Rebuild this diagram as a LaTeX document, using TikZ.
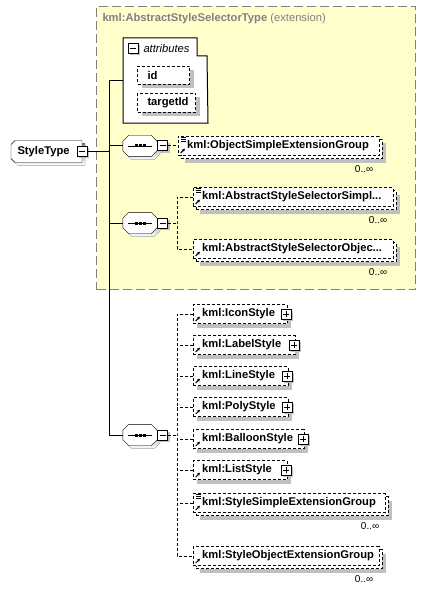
\documentclass[tikz,border=0pt]{standalone}
\usepackage{fontspec}
\setmainfont{Liberation Sans}
\usetikzlibrary{shadows,arrows.meta}
\pgfdeclarelayer{background}
\pgfsetlayers{background,main}
\definecolor{extfill}{HTML}{FFFFCC}
\definecolor{extline}{HTML}{808080}
\definecolor{shade}{HTML}{C0C0C0}
\begin{document}
\begin{tikzpicture}[x=1bp,y=-1bp,line width=1bp,
  font=\fontsize{11.2bp}{13bp}\selectfont\bfseries,
  shd/.style={drop shadow={shadow xshift=#1, shadow yshift=-#1, fill=shade, opacity=1}},
  shd/.default=4bp,
  dsh/.style={dash pattern=on 3bp off 2bp},
  conn/.style={draw=black, line width=1bp},
  dconn/.style={conn, dsh},
  refmark/.style={path picture={
     \draw[line width=1bp,solid,-{Latex[length=3bp,width=3bp]}] ([xshift=2.5bp,yshift=2.5bp]path picture bounding box.south west) -- ++(4.5bp,4.5bp);}},
  refsimple/.style={path picture={
     \draw[line width=1bp,solid,-{Latex[length=3bp,width=3bp]}] ([xshift=2.5bp,yshift=2.5bp]path picture bounding box.south west) -- ++(4.5bp,4.5bp);
     \draw[line width=0.8bp,solid] ([xshift=3bp,yshift=-1bp]path picture bounding box.north west) -- ++(5bp,0bp);
     \draw[line width=0.8bp,solid] ([xshift=3bp,yshift=-3bp]path picture bounding box.north west) -- ++(5bp,0bp);
     \draw[line width=0.8bp,solid] ([xshift=3bp,yshift=-5bp]path picture bounding box.north west) -- ++(5bp,0bp);}},
  elem/.style={draw, dsh, fill=white, minimum height=19bp, inner xsep=0bp, inner ysep=0bp,
     text width=#1, align=left, anchor=west, shd, refmark},
  grp/.style={draw, dsh, fill=white, minimum height=19bp, inner xsep=0bp, inner ysep=0bp,
     text width=#1, align=left, anchor=west, shd=7bp,
     copy shadow={shadow xshift=3bp, shadow yshift=-3bp, draw=black, fill=white, dsh, opacity=1}, refmark},
  pmbox/.style={rectangle, draw, solid, fill=white, minimum size=10bp, inner sep=0bp, line width=1bp, shd=2bp},
  minusbox/.style={pmbox, path picture={\draw[line width=1bp] ([xshift=-3bp]path picture bounding box.center) -- ([xshift=3bp]path picture bounding box.center);}},
  plusbox/.style={pmbox, path picture={\draw[line width=1bp] ([xshift=-3bp]path picture bounding box.center) -- ([xshift=3bp]path picture bounding box.center);
     \draw[line width=1bp] ([yshift=-3bp]path picture bounding box.center) -- ([yshift=3bp]path picture bounding box.center);}},
  seq/.style={rectangle, minimum width=34bp, minimum height=21bp, inner sep=0bp},
  occ/.style={font=\fontsize{10bp}{12bp}\selectfont\mdseries, inner sep=0bp, anchor=east}
]
\useasboundingbox (0,0) rectangle (425,592);

% extension container
\node[draw=extline, fill=extfill, dash pattern=on 9bp off 4bp, minimum width=319bp, minimum height=283bp, anchor=north west, inner sep=0bp] (ext) at (96,6) {};
\node[anchor=west, text=extline, inner sep=0bp] (title) at (102,19) {kml:AbstractStyleSelectorType \mdseries(extension)};

% attributes
\node[inner sep=0bp, minimum width=84bp, minimum height=84bp, anchor=north west] (attr) at (123,38) {};
\draw[fill=white] (attr.north west) -- ++(74,0) -- ++(0,18) -- ++(10,0) -- (attr.south east) -- (attr.south west) -- cycle;
\node[minusbox, shd=0bp] (attrm) at (133,48.5) {};
\node[anchor=west, inner sep=0bp, font=\fontsize{11.2bp}{13bp}\selectfont\mdseries\itshape] (attrl) at (143,48.5) {attributes};
\node[draw, dsh, fill=white, shd, text width=52bp, inner sep=0bp, minimum height=18bp, align=left, anchor=north west] (id) at (137,66) {\hspace*{10bp}id};
\node[draw, dsh, fill=white, shd, text width=58bp, inner sep=0bp, minimum height=19bp, align=left, anchor=north west] (tid) at (137,93) {\hspace*{10bp}targetId};

% root
\node[rectangle, minimum height=21bp, text width=70bp, inner xsep=0bp, inner ysep=0bp,
      align=left, anchor=west] (st) at (11,151.5) {\hspace*{6bp}StyleType};
\begin{pgfonlayer}{background}
  \fill[shade] ([xshift=3bp,yshift=-3bp,xshift=4bp]st.north west) -- ([xshift=3bp,yshift=-3bp]st.north east)
     -- ([xshift=3bp,yshift=-3bp]st.south east) -- ([xshift=3bp,yshift=-3bp,xshift=4bp]st.south west)
     -- ([xshift=3bp,yshift=-3bp,yshift=4bp]st.south west) -- ([xshift=3bp,yshift=-3bp,yshift=-4bp]st.north west) -- cycle;
  \draw[fill=white] ([xshift=4bp]st.north west) -- (st.north east) -- (st.south east) -- ([xshift=4bp]st.south west)
     -- ([yshift=4bp]st.south west) -- ([yshift=-4bp]st.north west) -- cycle;
\end{pgfonlayer}
\node[minusbox] (stm) at (st.east) {};

% sequences
\node[seq] (seq1) at (140,146) {};
\node[seq] (seq2) at (140,223) {};
\node[seq] (seq3) at (140,435) {};
\foreach \s in {seq1,seq2,seq3}{
  \fill[shade] ([xshift=3bp,yshift=-3bp,xshift=6bp]\s.north west) -- ([xshift=3bp,yshift=-3bp,xshift=-6bp]\s.north east)
     -- ([xshift=3bp,yshift=-3bp,yshift=-6bp]\s.north east) -- ([xshift=3bp,yshift=-3bp,yshift=6bp]\s.south east)
     -- ([xshift=3bp,yshift=-3bp,xshift=-6bp]\s.south east) -- ([xshift=3bp,yshift=-3bp,xshift=6bp]\s.south west)
     -- ([xshift=3bp,yshift=-3bp,yshift=6bp]\s.south west) -- ([xshift=3bp,yshift=-3bp,yshift=-6bp]\s.north west) -- cycle;
  \draw[fill=white] ([xshift=6bp]\s.north west) -- ([xshift=-6bp]\s.north east)
     -- ([yshift=-6bp]\s.north east) -- ([yshift=6bp]\s.south east)
     -- ([xshift=-6bp]\s.south east) -- ([xshift=6bp]\s.south west)
     -- ([yshift=6bp]\s.south west) -- ([yshift=-6bp]\s.north west) -- cycle;
  \draw ([xshift=-12bp]\s.center) -- ([xshift=12bp]\s.center);
  \fill ([xshift=-5.5bp,yshift=1.5bp]\s.center) rectangle ++(3,3);
  \fill ([xshift=-1.5bp,yshift=1.5bp]\s.center) rectangle ++(3,3);
  \fill ([xshift=2.5bp,yshift=1.5bp]\s.center) rectangle ++(3,3);
}
\node[minusbox] (m1) at ([xshift=5.5bp]seq1.east) {};
\node[minusbox] (m2) at ([xshift=5.5bp]seq2.east) {};
\node[minusbox] (m3) at ([xshift=5.5bp]seq3.east) {};

% trunk connectors
\coordinate (trunk) at (109,80);
\draw[conn] (stm.east) -- (stm.east -| trunk);
\draw[conn] (attr.west) -- (attr.west -| trunk) -- (seq3.west -| trunk) -- (seq3.west);
\draw[conn] (seq1.west -| trunk) -- (seq1.west);
\draw[conn] (seq2.west -| trunk) -- (seq2.west);

% elements
\node[grp=201bp, refsimple] (obj) at (178,146) {\hspace*{9bp}kml:ObjectSimpleExtensionGroup};
\node[grp=200bp, refsimple] (simpl) at (193,197) {\hspace*{9bp}kml:AbstractStyleSelectorSimpl...};
\node[grp=200bp] (objec) at (193,249) {\hspace*{9bp}kml:AbstractStyleSelectorObjec...};
\node[elem=94bp] (icon) at (193,314) {\hspace*{9bp}kml:IconStyle};
\node[elem=102bp] (label) at (193,345) {\hspace*{9bp}kml:LabelStyle};
\node[elem=95bp] (line) at (193,376) {\hspace*{9bp}kml:LineStyle};
\node[elem=95bp] (poly) at (193,407) {\hspace*{9bp}kml:PolyStyle};
\node[elem=111bp] (balloon) at (193,439) {\hspace*{9bp}kml:BalloonStyle};
\node[elem=94bp] (list) at (193,470) {\hspace*{9bp}kml:ListStyle};
\node[grp=192bp, refsimple] (ssimple) at (193,503) {\hspace*{9bp}kml:StyleSimpleExtensionGroup};
\node[grp=186bp] (sobject) at (193,556) {\hspace*{9bp}kml:StyleObjectExtensionGroup};

% plus boxes
\node[plusbox] (picon) at ([xshift=-1bp]icon.east) {};
\node[plusbox] (plabel) at ([xshift=-1bp]label.east) {};
\node[plusbox] (pline) at ([xshift=-1bp]line.east) {};
\node[plusbox] (ppoly) at ([xshift=-1bp]poly.east) {};
\node[plusbox] (pballoon) at ([xshift=-1bp]balloon.east) {};
\node[plusbox] (plist) at ([xshift=-1bp]list.east) {};

% occurrences
\node[occ] (oobj) at ([xshift=-6bp,yshift=-13bp]obj.south east) {0..∞};
\node[occ] (osimpl) at ([xshift=-6bp,yshift=-13bp]simpl.south east) {0..∞};
\node[occ] (oobjec) at ([xshift=-6bp,yshift=-13bp]objec.south east) {0..∞};
\node[occ] (ossimple) at ([xshift=-6bp,yshift=-13bp]ssimple.south east) {0..∞};
\node[occ] (osobject) at ([xshift=-6bp,yshift=-13bp]sobject.south east) {0..∞};

% dashed branch connectors
\draw[dconn] (m1.east) -- (obj.west);
\coordinate (b2) at (177,223);
\draw[dconn] (m2.east) -- (b2);
\draw[dconn] (simpl.west) -| (b2) |- (objec.west);
\coordinate (b3) at (177,435);
\draw[dconn] (m3.east) -- (b3);
\draw[dconn] (icon.west) -| (b3) |- (sobject.west);
\foreach \n in {label,line,poly,balloon,list,ssimple}{
  \draw[dconn] (\n.west) -- (\n.west -| b3);
}
\end{tikzpicture}
\end{document}
